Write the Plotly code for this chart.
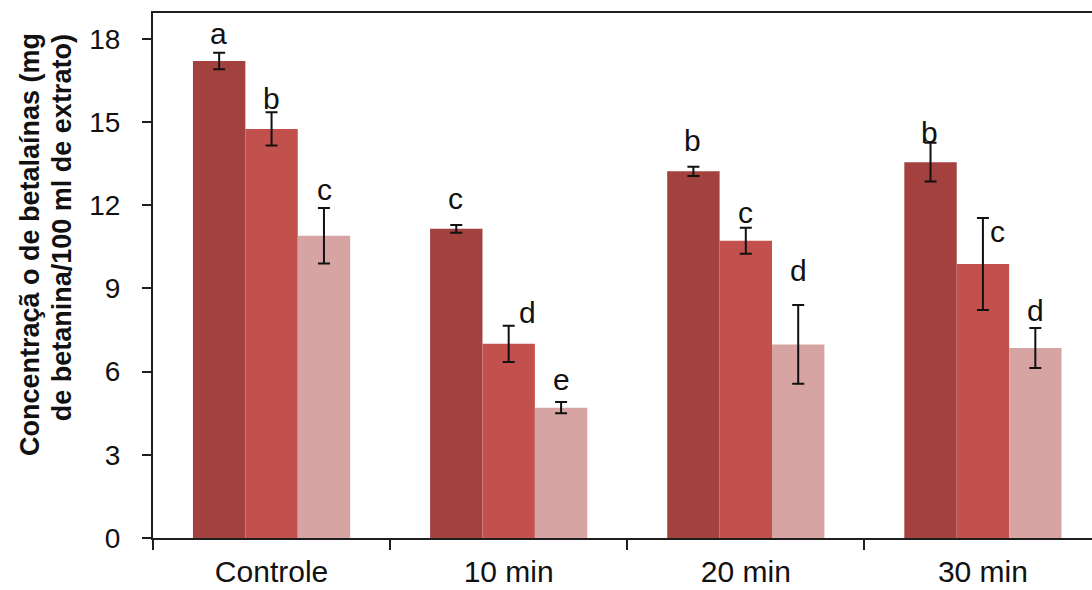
import plotly.graph_objects as go

# Treatments on the x axis
categories = ["Controle", "10 min", "20 min", "30 min"]

# Betalain concentration (mg betanin / 100 ml extract) for each of the three series
series_1 = [17.2, 11.15, 13.22, 13.55]
series_2 = [14.75, 7.0, 10.72, 9.88]
series_3 = [10.9, 4.7, 6.98, 6.85]

# Standard deviations
err_1 = [0.3, 0.14, 0.17, 0.7]
err_2 = [0.6, 0.65, 0.47, 1.66]
err_3 = [1.0, 0.2, 1.42, 0.72]

# Significance letters
letters_1 = ["a", "c", "b", "b"]
letters_2 = ["b", "d", "c", "c"]
letters_3 = ["c", "e", "d", "d"]

y_ticks = [0, 3, 6, 9, 12, 15, 18]

# --- styling -------------------------------------------------------------
FONT = "Liberation Sans, Arial, sans-serif"
colors = ["#A3413F", "#C2504D", "#D7A4A4"]
axis_color = "#1e1e1e"
bar_width_px = 53.0
# pixel nudges (dx, dy) for each letter, placed relative to the top of its error bar
letter_nudges = [
    [(0, 19), (0, 26), (0, 26), (0, 10)],
    [(0, 14), (19, 13), (0, 15), (15, -14)],
    [(0, 18), (0, 23), (0, 35), (0, 18)],
]

values = [series_1, series_2, series_3]
errors = [err_1, err_2, err_3]
letters = [letters_1, letters_2, letters_3]

fig = go.Figure()
for k in range(3):
    fig.add_trace(go.Bar(
        x=categories,
        y=values[k],
        marker=dict(color=colors[k], line=dict(width=0)),
        error_y=dict(type="data", array=errors[k], visible=True,
                     color="#111111", thickness=2, width=6),
        showlegend=False,
    ))

annotations = []
for k in range(3):
    offset = (k - 1) * bar_width_px
    for i, cat in enumerate(categories):
        dx, dy = letter_nudges[k][i]
        annotations.append(dict(
            x=cat, y=values[k][i] + errors[k][i], xref="x", yref="y",
            text=letters[k][i], showarrow=False,
            xanchor="center", yanchor="middle",
            xshift=offset + dx, yshift=dy,
            font=dict(family=FONT, size=30, color="#111111"),
        ))

# Two-line rotated y-axis title
title_lines = ["Concentraçã o de betalaínas (mg", "de betanina/100 ml de extrato)"]
title_pos = [(-123, 0.558), (-91, 0.590)]
for line, (xs, yp) in zip(title_lines, title_pos):
    annotations.append(dict(
        x=0, y=yp, xref="paper", yref="paper", text="<b>" + line + "</b>",
        showarrow=False, textangle=-90, xanchor="center", yanchor="middle",
        xshift=xs, font=dict(family=FONT, size=27, color="#111111"),
    ))

fig.update_layout(
    width=1092, height=590,
    margin=dict(l=153, r=0, t=13, b=52),
    paper_bgcolor="white", plot_bgcolor="white",
    barmode="group", bargap=0.337, bargroupgap=0,
    font=dict(family=FONT, size=30, color="#111111"),
    annotations=annotations,
)
fig.update_xaxes(
    type="category", range=[-0.5, 3.46],
    showline=True, linecolor=axis_color, linewidth=2, mirror=True,
    ticks="outside", tickson="boundaries", ticklen=10, tickwidth=2,
    tickcolor=axis_color, showgrid=False, zeroline=False, ticklabelstandoff=6,
    tickfont=dict(family=FONT, size=30, color="#111111"),
)
fig.update_yaxes(
    range=[0, 18.93], tickvals=y_ticks,
    showline=True, linecolor=axis_color, linewidth=2,
    ticks="outside", ticklen=9, tickwidth=2, tickcolor=axis_color,
    showgrid=False, zeroline=False, ticklabelstandoff=16,
    tickfont=dict(family=FONT, size=28, color="#111111"),
)

fig.write_html("out.html")
